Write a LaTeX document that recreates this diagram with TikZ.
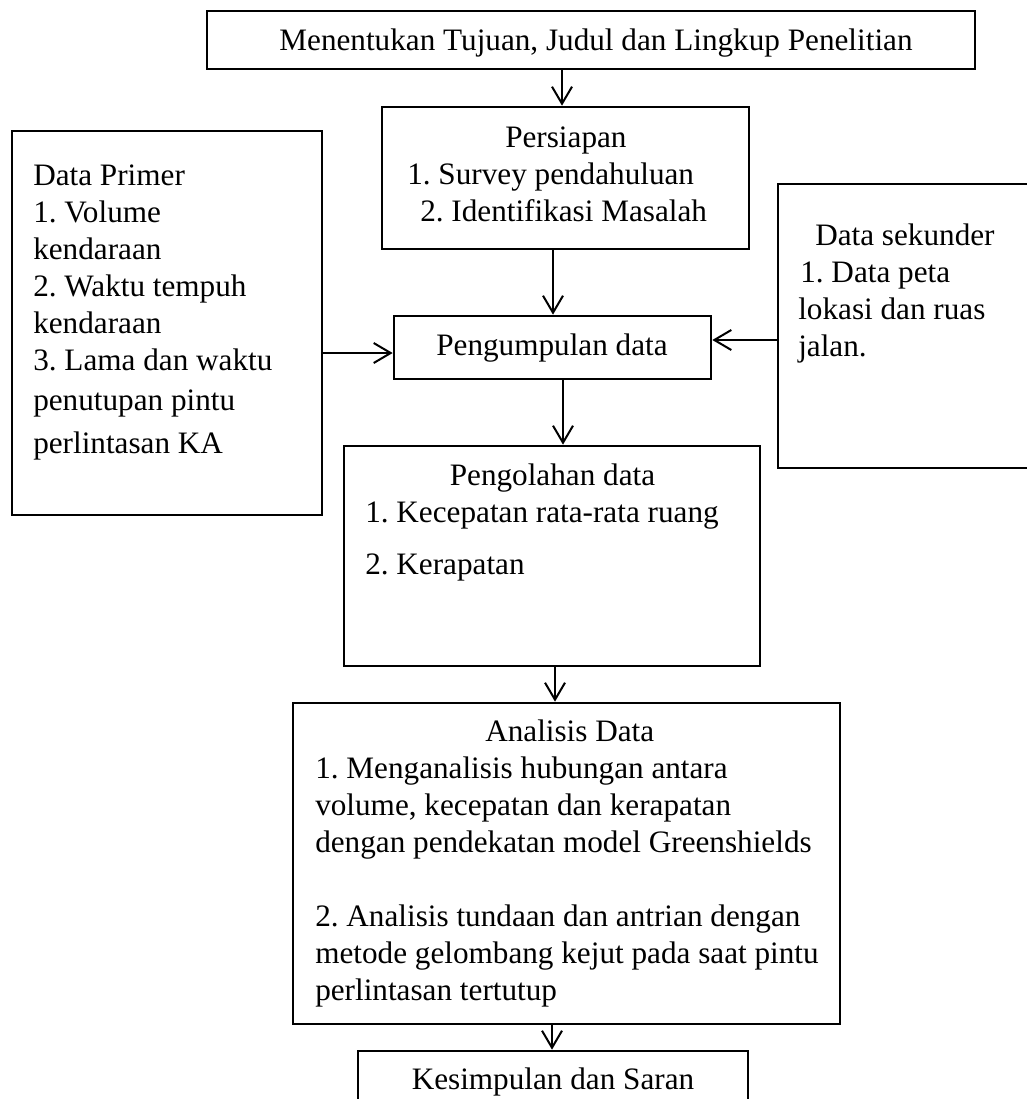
\documentclass[tikz,border=0pt]{standalone}
\usepackage{fontspec}
\setmainfont{Liberation Serif}
\usetikzlibrary{arrows.meta,fit}
\newcommand{\firststrut}{\rule{0pt}{18pt}}
\begin{document}
\frenchspacing
\begin{tikzpicture}[x=0.75pt,y=-0.75pt,
  box/.style={draw, line width=2pt, inner sep=0pt},
  txt/.style={inner sep=0pt, align=left, font=\fontsize{23.4pt}{27.75pt}\selectfont\frenchspacing},
  arr/.style={-{Straight Barb[length=12.75pt,width=15pt]}, line width=1.5pt}]
\useasboundingbox (0,0) rectangle (1027,1099);
\clip (0,0) rectangle (1027,1099);

% boxes
\node[box, fit={(207,11) (975,69)}] (tb) {};
\node[box, fit={(382,107) (749,249)}] (ps) {};
\node[box, fit={(12,131) (322,515)}] (dp) {};
\node[box, fit={(778,184) (1060,468)}] (ds) {};
\node[box, fit={(394,316) (711,379)}] (pg) {};
\node[box, fit={(344,446) (760,666)}] (po) {};
\node[box, fit={(293,703) (840,1024)}] (an) {};
\node[box, fit={(358,1051) (748,1110)}] (ks) {};

% texts
\node[txt, anchor=base] (tbT) at (596,51) {Menentukan Tujuan, Judul dan Lingkup Penelitian};
\node[txt, anchor=north west] (psT) at (407,123) {\firststrut\hspace*{73.5pt}Persiapan\\
1. Survey pendahuluan\\
\hspace*{9.75pt}2. Identifikasi Masalah};
\node[txt, anchor=north west] (dpT) at (33,161) {\firststrut Data Primer\\
1. Volume\\
kendaraan\\
2. Waktu tempuh\\
kendaraan\\
3. Lama dan waktu\\[2.25pt]
penutupan pintu\\[4.5pt]
perlintasan KA};
\node[txt, anchor=north west] (dsT) at (798,221) {\firststrut\hspace*{12.75pt}Data sekunder\\
\hspace*{1.5pt}1. Data peta\\
lokasi dan ruas\\
jalan.};
\node[txt, anchor=base] (pgT) at (552,355) {Pengumpulan data};
\node[txt, anchor=north west] (poT) at (365,461) {\firststrut\hspace*{63.4pt}Pengolahan data\\
1. Kecepatan rata-rata ruang\\[11.25pt]
2. Kerapatan};
\node[txt, anchor=north west] (anT) at (315,717) {\firststrut\hspace*{127.5pt}Analisis Data\\
1. Menganalisis hubungan antara\\
volume, kecepatan dan kerapatan\\
dengan pendekatan model Greenshields\\[27.75pt]
2. Analisis tundaan dan antrian dengan\\
metode gelombang kejut pada saat pintu\\
perlintasan tertutup};
\node[txt, anchor=base] (ksT) at (553,1089) {Kesimpulan dan Saran};

% connector guide coordinates
\coordinate (x1) at (562,0);
\coordinate (x2) at (553,0);
\coordinate (x3) at (563,0);
\coordinate (x4) at (555,0);
\coordinate (x5) at (552,0);
\coordinate (yL) at (0,353);
\coordinate (yR) at (0,340);

% connectors
\draw[arr] (tb.south -| x1) -- (ps.north -| x1);
\draw[arr] (ps.south -| x2) -- (pg.north -| x2);
\draw[arr] (pg.south -| x3) -- (po.north -| x3);
\draw[arr] (po.south -| x4) -- (an.north -| x4);
\draw[arr] (an.south -| x5) -- (ks.north -| x5);
\draw[arr] (dp.east |- yL) -- (pg.west |- yL);
\draw[arr] (ds.west |- yR) -- (pg.east |- yR);
\end{tikzpicture}
\end{document}
